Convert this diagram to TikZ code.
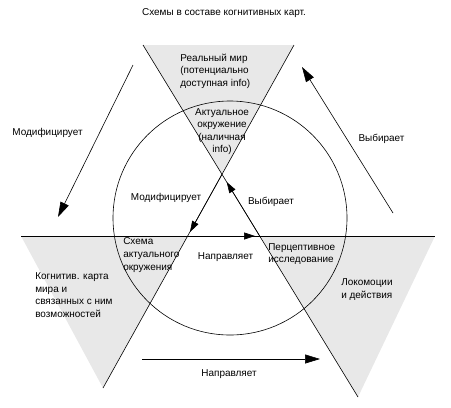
\documentclass[tikz,border=0pt]{standalone}
\usepackage{fontspec}
\setmainfont{Liberation Sans}
\usetikzlibrary{arrows.meta}
\definecolor{zone}{gray}{0.91}
\tikzset{
	lbl/.style={inner sep=0pt, font=\fontsize{10}{12.6}\selectfont},
	bigarr/.style={-{Triangle[length=15bp,width=9bp]}},
	smallarr/.style={-{Triangle[length=11bp,width=7bp]}},
}
\begin{document}
\begin{tikzpicture}[x=1bp,y=-1bp,line width=0.6pt]
	\useasboundingbox (0,0) rectangle (451,407);
	% corners of the three zones
	\coordinate (tl) at (143,45);
	\coordinate (tr) at (294,45);
	\coordinate (apex) at (222,174.3);
	\coordinate (hl) at (21,236);
	\coordinate (hr) at (435,236);
	\coordinate (lv) at (187.6,236);
	\coordinate (rv) at (259.7,236);
	\coordinate (blb) at (103,388);
	\coordinate (brb) at (358,397);
	% arrow ends
	\coordinate (modtip) at (190,232);
	\coordinate (vybtip) at (226.7,182);
	\coordinate (navtip) at (255,236);
	\coordinate (omodA) at (133,65);
	\coordinate (omodB) at (58,217);
	\coordinate (ovybA) at (393,213);
	\coordinate (ovybB) at (302,67);
	\coordinate (onavA) at (142,359);
	\coordinate (onavB) at (320,359);
	% gray zones
	\fill [zone] (tl) -- (tr) -- (apex) -- cycle;
	\fill [zone] (hl) -- (lv) -- (blb) -- cycle;
	\fill [zone] (rv) -- (hr) -- (brb) -- cycle;
	% circle and lines
	\draw (230,218) circle (117);
	\draw (tl) -- (brb);
	\draw (tr) -- (blb);
	\draw (hl) -- (hr);
	% inner arrows
	\draw [smallarr] (apex) -- (modtip);
	\draw [smallarr] (rv) -- (vybtip);
	\draw [smallarr] (lv) -- (navtip);
	% outer arrows
	\draw [bigarr] (omodA) -- (omodB);
	\draw [bigarr] (ovybA) -- (ovybB);
	\draw [bigarr] (onavA) -- (onavB);
	% texts
	\node[lbl] (title) at (224,13) {Схемы в составе когнитивных карт.};
	\node[lbl, anchor=west, align=left] (real) at (180,71) {Реальный мир\\(потенциально\\доступная info)};
	\node[lbl, align=center] (actual) at (222,131.5) {Актуальное\\окружение\\(наличная\\info)};
	\node[lbl, anchor=west, align=left] (schema) at (123,255) {Схема\\актуального\\окружения};
	\node[lbl, anchor=west, align=left] (percept) at (268,254) {Перцептивное\\исследование};
	\node[lbl, anchor=west, align=left] (cogmap) at (35,295) {Когнитив. карта\\мира и\\связанных с ним\\возможностей};
	\node[lbl, anchor=west, align=left] (locom) at (341,289.5) {Локомоции\\и действия};
	\node[lbl] (imod) at (166,198) {Модифицирует};
	\node[lbl] (ivyb) at (271,202) {Выбирает};
	\node[lbl] (inav) at (225.5,257) {Направляет};
	\node[lbl] (omod) at (47.5,133) {Модифицирует};
	\node[lbl] (ovyb) at (381.5,139) {Выбирает};
	\node[lbl] (onav) at (229,374) {Направляет};
\end{tikzpicture}
\end{document}
